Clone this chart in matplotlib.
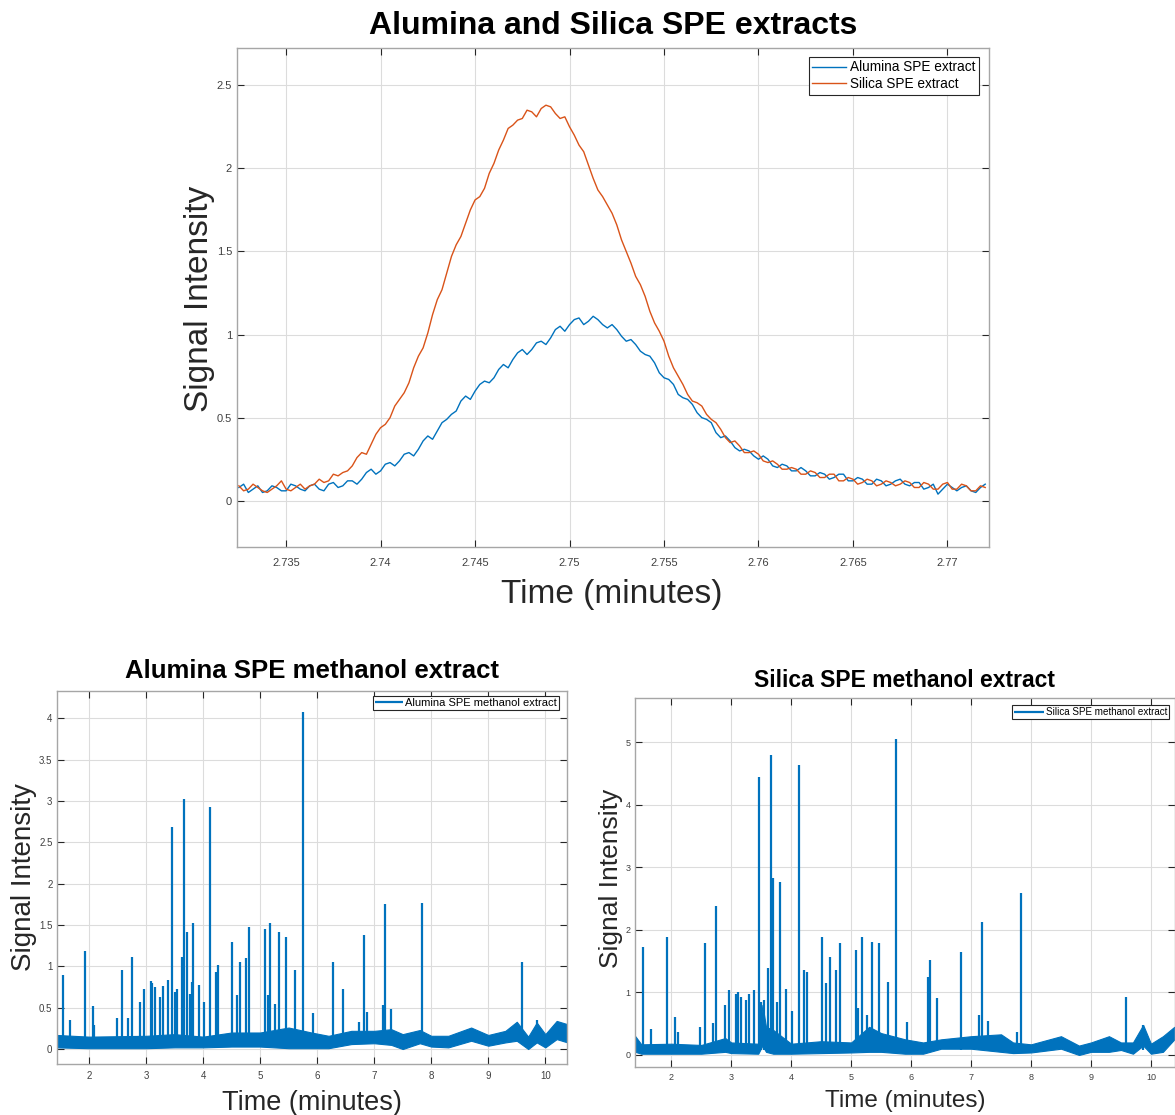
import numpy as np
import matplotlib
matplotlib.use("Agg")
import matplotlib.pyplot as plt

plt.rcParams['font.family'] = ['Liberation Sans', 'DejaVu Sans']

# ---------------- top panel data (uniformly sampled, 2.7325 .. 2.7720 min) ----------------
time_start, time_end = 2.7325, 2.7720

alumina_top = [0.08, 0.10, 0.05, 0.07, 0.09, 0.05, 0.06, 0.09, 0.08, 0.06,
               0.06, 0.10, 0.09, 0.07, 0.06, 0.09, 0.10, 0.07, 0.06, 0.10,
               0.11, 0.08, 0.09, 0.12, 0.12, 0.10, 0.13, 0.17, 0.19, 0.16,
               0.18, 0.22, 0.23, 0.21, 0.24, 0.28, 0.29, 0.27, 0.31, 0.36,
               0.39, 0.37, 0.42, 0.47, 0.49, 0.52, 0.54, 0.60, 0.63, 0.61,
               0.66, 0.70, 0.72, 0.71, 0.74, 0.79, 0.82, 0.80, 0.85, 0.89,
               0.91, 0.88, 0.91, 0.95, 0.96, 0.94, 0.98, 1.03, 1.05, 1.02,
               1.06, 1.09, 1.10, 1.06, 1.08, 1.11, 1.09, 1.06, 1.04, 1.06,
               1.03, 0.99, 0.96, 0.97, 0.94, 0.90, 0.88, 0.87, 0.83, 0.77,
               0.74, 0.73, 0.70, 0.64, 0.62, 0.61, 0.58, 0.53, 0.50, 0.49,
               0.47, 0.41, 0.38, 0.39, 0.36, 0.32, 0.30, 0.31, 0.30, 0.27,
               0.25, 0.27, 0.25, 0.21, 0.20, 0.22, 0.21, 0.18, 0.18, 0.20,
               0.18, 0.15, 0.15, 0.17, 0.16, 0.13, 0.14, 0.16, 0.16, 0.12,
               0.12, 0.14, 0.13, 0.10, 0.10, 0.13, 0.12, 0.09, 0.10, 0.12,
               0.13, 0.10, 0.09, 0.11, 0.11, 0.07, 0.08, 0.10, 0.04, 0.07,
               0.10, 0.08, 0.06, 0.08, 0.09, 0.06, 0.05, 0.08, 0.10]

silica_top = [0.09, 0.06, 0.07, 0.10, 0.08, 0.06, 0.05, 0.07, 0.09, 0.12,
              0.07, 0.06, 0.08, 0.10, 0.07, 0.09, 0.10, 0.13, 0.11, 0.12,
              0.16, 0.15, 0.17, 0.18, 0.21, 0.26, 0.29, 0.28, 0.34, 0.40,
              0.44, 0.46, 0.50, 0.57, 0.61, 0.65, 0.71, 0.80, 0.87, 0.92,
              1.01, 1.12, 1.21, 1.27, 1.37, 1.47, 1.54, 1.59, 1.67, 1.75,
              1.81, 1.83, 1.88, 1.97, 2.03, 2.11, 2.17, 2.24, 2.26, 2.29,
              2.30, 2.35, 2.34, 2.31, 2.36, 2.38, 2.37, 2.33, 2.30, 2.31,
              2.25, 2.20, 2.14, 2.10, 2.02, 1.94, 1.87, 1.83, 1.78, 1.73,
              1.66, 1.57, 1.50, 1.43, 1.35, 1.30, 1.23, 1.14, 1.07, 1.02,
              0.96, 0.87, 0.80, 0.75, 0.70, 0.64, 0.60, 0.59, 0.57, 0.52,
              0.49, 0.47, 0.43, 0.38, 0.35, 0.36, 0.33, 0.29, 0.29, 0.30,
              0.28, 0.24, 0.23, 0.24, 0.22, 0.19, 0.19, 0.20, 0.19, 0.16,
              0.16, 0.18, 0.17, 0.14, 0.14, 0.16, 0.16, 0.12, 0.12, 0.14,
              0.13, 0.10, 0.11, 0.13, 0.12, 0.09, 0.10, 0.12, 0.11, 0.09,
              0.10, 0.12, 0.11, 0.08, 0.08, 0.11, 0.10, 0.07, 0.07, 0.10,
              0.11, 0.07, 0.07, 0.10, 0.09, 0.06, 0.06, 0.09, 0.08]

top_xticks = [2.735, 2.74, 2.745, 2.75, 2.755, 2.76, 2.765, 2.77]
top_xticklabels = ['2.735', '2.74', '2.745', '2.75', '2.755', '2.76', '2.765', '2.77']
top_yticks = [0, 0.5, 1, 1.5, 2, 2.5]
top_yticklabels = ['0', '0.5', '1', '1.5', '2', '2.5']

# ---------------- bottom-left (Alumina methanol) ----------------
alu_peak_t = [1.539, 1.667, 1.93, 2.065, 2.09, 2.485, 2.573, 2.69, 2.754, 2.894, 2.97,
              3.08, 3.11, 3.15, 3.25, 3.29, 3.38, 3.46, 3.51, 3.55, 3.63, 3.67, 3.72,
              3.77, 3.80, 3.82, 3.93, 4.02, 4.13, 4.23, 4.26, 4.51, 4.59, 4.64, 4.75,
              4.81, 5.08, 5.13, 5.17, 5.26, 5.33, 5.45, 5.61, 5.752, 5.93, 6.283,
              6.448, 6.73, 6.821, 6.88, 7.149, 7.19, 7.29, 7.833, 9.586, 9.85]
alu_peak_h = [0.89, 0.35, 1.19, 0.52, 0.29, 0.37, 0.96, 0.38, 1.11, 0.57, 0.73,
              0.82, 0.80, 0.75, 0.63, 0.76, 0.84, 2.68, 0.69, 0.73, 1.11, 3.03, 1.41,
              0.67, 0.81, 1.52, 0.78, 0.57, 2.93, 0.93, 1.02, 1.30, 0.65, 1.05, 1.10,
              1.47, 1.45, 0.65, 1.52, 0.55, 1.42, 1.36, 0.96, 4.08, 0.43, 1.05,
              0.73, 0.33, 1.38, 0.45, 0.53, 1.75, 0.49, 1.77, 1.05, 0.35]
alu_base_t = [1.44, 2.0, 3.0, 3.5, 4.0, 4.5, 5.0, 5.5, 5.9, 6.2, 6.6, 7.0, 7.3, 7.5,
              7.8, 8.0, 8.3, 8.7, 9.0, 9.3, 9.5, 9.7, 9.85, 10.0, 10.2, 10.39]
alu_base_lo = [0.02, 0.01, 0.01, 0.02, 0.02, 0.03, 0.03, 0.01, 0.01, 0.01, 0.06, 0.07, 0.05, 0.00,
               0.07, 0.03, 0.02, 0.10, 0.04, 0.08, 0.10, 0.00, 0.08, 0.02, 0.12, 0.08]
alu_base_hi = [0.17, 0.15, 0.16, 0.18, 0.15, 0.20, 0.20, 0.26, 0.20, 0.16, 0.22, 0.22, 0.24, 0.18,
               0.23, 0.16, 0.16, 0.26, 0.17, 0.22, 0.33, 0.15, 0.32, 0.18, 0.34, 0.30]

# ---------------- bottom-right (Silica methanol) ----------------
sil_peak_t = [1.523, 1.656, 1.928, 2.06, 2.12, 2.48, 2.562, 2.69, 2.745, 2.89, 2.962,
              3.08, 3.12, 3.16, 3.24, 3.29, 3.385, 3.458, 3.50, 3.54, 3.618, 3.663,
              3.696, 3.77, 3.81, 3.91, 4.01, 4.125, 4.22, 4.26, 4.513, 4.58, 4.64,
              4.74, 4.813, 5.08, 5.12, 5.18, 5.26, 5.342, 5.459, 5.61, 5.748, 5.93,
              6.276, 6.315, 6.44, 6.826, 7.14, 7.182, 7.28, 7.77, 7.827, 9.584, 9.87]
sil_peak_h = [1.73, 0.42, 1.89, 0.61, 0.37, 0.45, 1.79, 0.51, 2.38, 0.80, 1.04,
              0.98, 1.01, 0.93, 0.88, 0.97, 1.04, 4.45, 0.85, 0.88, 1.39, 4.80,
              2.83, 0.85, 2.76, 1.05, 0.70, 4.63, 1.36, 1.32, 1.88, 1.15, 1.56,
              1.36, 1.79, 1.68, 0.75, 1.88, 0.64, 1.81, 1.79, 1.17, 5.05, 0.53,
              1.25, 1.52, 0.91, 1.65, 0.64, 2.12, 0.55, 0.37, 2.59, 0.93, 0.48]
sil_base_t = [1.4, 1.5, 2.0, 2.5, 2.9, 3.0, 3.45, 3.52, 3.58, 3.7, 4.0, 4.5, 5.0, 5.3, 5.5,
              5.9, 6.2, 6.5, 7.0, 7.5, 7.7, 8.0, 8.5, 8.8, 9.0, 9.3, 9.5, 9.7, 9.87,
              10.0, 10.2, 10.39]
sil_base_lo = [0.05, 0.02, 0.02, 0.02, 0.05, 0.03, 0.02, 0.15, 0.05, 0.02, 0.02, 0.03, 0.04, 0.05, 0.05,
               0.02, 0.02, 0.10, 0.10, 0.05, 0.03, 0.04, 0.10, 0.00, 0.05, 0.05, 0.08, 0.02, 0.15,
               0.02, 0.05, 0.25]
sil_base_hi = [0.30, 0.17, 0.18, 0.16, 0.27, 0.20, 0.18, 0.80, 0.45, 0.40, 0.18, 0.22, 0.20, 0.45, 0.35,
               0.25, 0.20, 0.25, 0.30, 0.33, 0.20, 0.17, 0.30, 0.15, 0.20, 0.30, 0.20, 0.20, 0.48,
               0.18, 0.30, 0.45]

bottom_xticks = [2, 3, 4, 5, 6, 7, 8, 9, 10]
alu_yticks = [0, 0.5, 1, 1.5, 2, 2.5, 3, 3.5, 4]
alu_yticklabels = ['0', '0.5', '1', '1.5', '2', '2.5', '3', '3.5', '4']
sil_yticks = [0, 1, 2, 3, 4, 5]

BLUE = '#0072BD'
ORANGE = '#D95319'
SPINE = '#a6a6a6'
TICKC = '#262626'
LABELC = '#262626'

W, H = 1175, 1115
fig = plt.figure(figsize=(W / 100, H / 100), dpi=100)


def px_axes(left, top, right, bottom):
    return fig.add_axes([left / W, 1 - bottom / H, (right - left) / W, (bottom - top) / H])


def style(ax, tick_size):
    for s in ax.spines.values():
        s.set_color(SPINE)
        s.set_linewidth(1.0)
    ax.tick_params(direction='in', which='both', top=True, right=True,
                   labelsize=tick_size, color=TICKC, labelcolor='#404040',
                   length=5, width=0.8)
    ax.grid(True, color='#dcdcdc', linewidth=0.8)
    ax.set_axisbelow(True)


# ---------------- top axes ----------------
time_top = np.linspace(time_start, time_end, len(alumina_top))
ax1 = px_axes(237, 48, 989, 547)
ax1.plot(time_top, alumina_top, color=BLUE, lw=1.0, label='Alumina SPE extract')
ax1.plot(time_top, silica_top, color=ORANGE, lw=1.0, label='Silica SPE extract')
ax1.set_xlim(2.7324, 2.7722)
ax1.set_ylim(-0.278, 2.724)
ax1.set_xticks(top_xticks)
ax1.set_xticklabels(top_xticklabels)
ax1.set_yticks(top_yticks)
ax1.set_yticklabels(top_yticklabels)
style(ax1, 8)
ax1.tick_params(axis='x', pad=8)
ax1.set_title('Alumina and Silica SPE extracts', fontsize=23, fontweight='bold',
              y=1.044, va='center', color='black', pad=0)
ax1.set_xlabel('Time (minutes)', fontsize=24, color=LABELC)
ax1.xaxis.label.set_va('center')
ax1.xaxis.set_label_coords(0.4987, -0.096)
ax1.set_ylabel('Signal Intensity', fontsize=24, color=LABELC)
ax1.yaxis.label.set_va('center')
ax1.yaxis.set_label_coords(-0.0505, 0.498)
leg1 = ax1.legend(loc='upper right', bbox_to_anchor=(979 / W, 1 - 57 / H),
                  bbox_transform=fig.transFigure, borderaxespad=0, fontsize=9.8,
                  fancybox=False, edgecolor='#262626', framealpha=1,
                  handlelength=2.5, handletextpad=0.3, borderpad=0.25,
                  labelspacing=0.2)
leg1.get_frame().set_linewidth(0.8)


def chrom(ax, base_t, lo, hi, pk_t, pk_h, label, lw):
    ax.fill_between(base_t, lo, hi, color=BLUE, linewidth=0.8, edgecolor=BLUE)
    ax.vlines(pk_t, 0.08, pk_h, color=BLUE, linewidth=lw, label=label)


# ---------------- bottom-left ----------------
ax2 = px_axes(57.3, 690.7, 567.3, 1064)
chrom(ax2, alu_base_t, alu_base_lo, alu_base_hi, alu_peak_t, alu_peak_h,
      'Alumina SPE methanol extract', 1.6)
ax2.set_xlim(1.444, 10.386)
ax2.set_ylim(-0.181, 4.334)
ax2.set_xticks(bottom_xticks)
ax2.set_yticks(alu_yticks)
ax2.set_yticklabels(alu_yticklabels)
style(ax2, 7)
ax2.tick_params(axis='x', pad=5)
ax2.set_title('Alumina SPE methanol extract', fontsize=18.5, fontweight='bold',
              y=1.0528, va='center', color='black', pad=0)
ax2.set_xlabel('Time (minutes)', fontsize=19.5, color=LABELC)
ax2.xaxis.label.set_va('center')
ax2.xaxis.set_label_coords(0.4994, -0.104)
ax2.set_ylabel('Signal Intensity', fontsize=20, color=LABELC)
ax2.yaxis.label.set_va('center')
ax2.yaxis.set_label_coords(-0.065, 0.501)
leg2 = ax2.legend(loc='upper right', bbox_to_anchor=(559 / W, 1 - 696 / H),
                  bbox_transform=fig.transFigure, borderaxespad=0, fontsize=8,
                  fancybox=False, edgecolor='#262626', framealpha=1,
                  handlelength=2.5, handletextpad=0.2, borderpad=0.2)
leg2.get_frame().set_linewidth(0.8)

# ---------------- bottom-right ----------------
ax3 = px_axes(635.3, 698.3, 1174.5, 1067.3)
chrom(ax3, sil_base_t, sil_base_lo, sil_base_hi, sil_peak_t, sil_peak_h,
      'Silica SPE methanol extract', 1.6)
ax3.set_xlim(1.4, 10.393)
ax3.set_ylim(-0.197, 5.70)
ax3.set_xticks(bottom_xticks)
ax3.set_yticks(sil_yticks)
style(ax3, 6.5)
ax3.tick_params(axis='x', pad=4)
ax3.set_title('Silica SPE methanol extract', fontsize=16.5, fontweight='bold',
              y=1.047, va='center', color='black', pad=0)
ax3.set_xlabel('Time (minutes)', fontsize=17.5, color=LABELC)
ax3.xaxis.label.set_va('center')
ax3.xaxis.set_label_coords(0.5, -0.092)
ax3.set_ylabel('Signal Intensity', fontsize=19, color=LABELC)
ax3.yaxis.label.set_va('center')
ax3.yaxis.set_label_coords(-0.045, 0.513)
leg3 = ax3.legend(loc='upper right', bbox_to_anchor=(1169 / W, 1 - 705 / H),
                  bbox_transform=fig.transFigure, borderaxespad=0, fontsize=7.1,
                  fancybox=False, edgecolor='#262626', framealpha=1,
                  handlelength=3.0, handletextpad=0.2, borderpad=0.2)
leg3.get_frame().set_linewidth(0.8)

fig.savefig('out.png', dpi=100)
